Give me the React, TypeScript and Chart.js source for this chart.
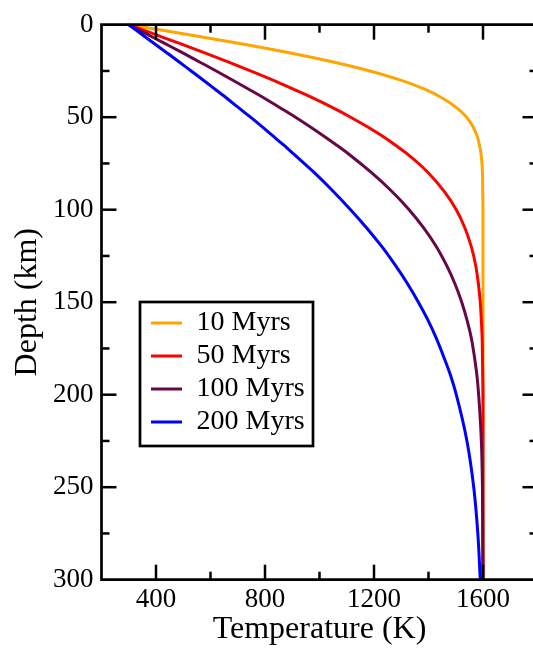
import React, { useEffect, useRef } from "react";
import { Chart, registerables } from "chart.js";

Chart.register(...registerables);

// ---- data ----
const depthKm = [0, 5, 10, 15, 20, 25, 30, 35, 40, 45, 50, 55, 60, 65, 70, 80, 90, 100, 110, 120, 130, 140, 150, 160, 170, 180, 190, 200, 225, 250, 275, 300];
const temp10Myr = [300, 505, 702, 884, 1046, 1185, 1298, 1388, 1455, 1504, 1540, 1563, 1578, 1587, 1593, 1598, 1599, 1600, 1600, 1600, 1600, 1600, 1600, 1600, 1600, 1600, 1600, 1600, 1600, 1600, 1600, 1600];
const temp50Myr = [300, 392, 484, 574, 662, 747, 829, 906, 981, 1050, 1114, 1174, 1229, 1278, 1323, 1399, 1457, 1502, 1534, 1557, 1573, 1583, 1590, 1594, 1597, 1598, 1599, 1600, 1600, 1600, 1600, 1600];
const temp100Myr = [300, 365, 430, 495, 558, 621, 682, 742, 801, 857, 912, 964, 1014, 1062, 1108, 1191, 1265, 1329, 1383, 1429, 1466, 1497, 1522, 1542, 1558, 1569, 1578, 1584, 1594, 1598, 1599, 1600];
const temp200Myr = [300, 346, 392, 438, 484, 529, 574, 618, 662, 704, 747, 788, 828, 868, 906, 981, 1050, 1114, 1174, 1229, 1278, 1323, 1363, 1399, 1430, 1457, 1482, 1502, 1541, 1566, 1581, 1590];

const seriesLabels = ["10 Myrs", "50 Myrs", "100 Myrs", "200 Myrs"];
const seriesColors = ["#FFA500", "#FF0000", "#670748", "#0000FF"];
const seriesTemps = [temp10Myr, temp50Myr, temp100Myr, temp200Myr];

const xTickValues = [400, 800, 1200, 1600];
const yTickValues = [0, 50, 100, 150, 200, 250, 300];

const xTitle = "Temperature (K)";
const yTitle = "Depth (km)";

const SERIF = '"Liberation Serif", "Times New Roman", serif';
const CANVAS_W = 560;
const CANVAS_H = 648;

const framePlugin = {
  id: "frameAndLegend",
  afterDraw(chart: any) {
    const { ctx, chartArea, scales } = chart;
    const { left, right, top, bottom } = chartArea;
    const xs = scales.x;
    const ys = scales.y;
    ctx.save();
    ctx.strokeStyle = "#000";
    ctx.lineCap = "butt";

    // frame
    ctx.lineWidth = 2.7;
    ctx.beginPath();
    ctx.moveTo(left, top);
    ctx.lineTo(right, top);
    ctx.lineTo(right, bottom);
    ctx.lineTo(left, bottom);
    ctx.closePath();
    ctx.stroke();

    const seg = (x1: number, y1: number, x2: number, y2: number) => {
      ctx.beginPath();
      ctx.moveTo(x1, y1);
      ctx.lineTo(x2, y2);
      ctx.stroke();
    };

    const major = 15;
    const minor = 8;
    ctx.lineWidth = 2.5;
    // x ticks (inward, top and bottom)
    xTickValues.forEach((v, i) => {
      const px = xs.getPixelForValue(v);
      seg(px, bottom, px, bottom - major);
      seg(px, top, px, top + major);
      if (i < xTickValues.length - 1) {
        const m = xs.getPixelForValue((v + xTickValues[i + 1]) / 2);
        seg(m, bottom, m, bottom - minor);
        seg(m, top, m, top + minor);
      }
    });
    // y ticks (inward, left and right)
    yTickValues.forEach((v, i) => {
      const py = ys.getPixelForValue(v);
      if (i > 0 && i < yTickValues.length - 1) {
        seg(left, py, left + major, py);
        seg(right, py, right - major, py);
      }
      if (i < yTickValues.length - 1) {
        const m = ys.getPixelForValue((v + yTickValues[i + 1]) / 2);
        seg(left, m, left + minor, m);
        seg(right, m, right - minor, m);
      }
    });

    // axis titles
    ctx.fillStyle = "#000";
    ctx.font = `32px ${SERIF}`;
    ctx.textAlign = "center";
    ctx.textBaseline = "alphabetic";
    ctx.fillText(xTitle, (left + right) / 2, 638);
    ctx.save();
    ctx.translate(35.5, (top + bottom) / 2);
    ctx.rotate(-Math.PI / 2);
    ctx.fillText(yTitle, 0, 0);
    ctx.restore();

    // legend
    const boxL = 140;
    const boxT = 302;
    const boxW = 173;
    const boxH = 144;
    ctx.fillStyle = "#fff";
    ctx.fillRect(boxL, boxT, boxW, boxH);
    ctx.lineWidth = 2.7;
    ctx.strokeStyle = "#000";
    ctx.strokeRect(boxL, boxT, boxW, boxH);
    ctx.font = `28px ${SERIF}`;
    ctx.textAlign = "left";
    ctx.textBaseline = "middle";
    seriesLabels.forEach((lab, i) => {
      const cy = 323 + i * 33;
      ctx.strokeStyle = seriesColors[i];
      ctx.lineWidth = 3;
      seg(151, cy, 182, cy);
      ctx.fillStyle = "#000";
      ctx.fillText(lab, 196.5, cy);
    });
    ctx.restore();
  },
};

export default function App() {
  const canvasRef = useRef<HTMLCanvasElement | null>(null);

  useEffect(() => {
    const canvas = canvasRef.current;
    if (!canvas) return;
    const datasets = seriesLabels.map((label, si) => ({
      label,
      data: depthKm.map((d, i) => ({ x: seriesTemps[si][i], y: d })),
      borderColor: seriesColors[si],
      backgroundColor: seriesColors[si],
      borderWidth: 3,
      pointRadius: 0,
      fill: false,
      cubicInterpolationMode: "monotone" as const,
      order: seriesLabels.length - si,
    }));

    const chart = new Chart(canvas, {
      type: "line",
      data: { datasets },
      options: {
        animation: false,
        responsive: false,
        devicePixelRatio: 1,
        indexAxis: "y",
        layout: { padding: { top: 24.7, right: CANVAS_W - 537.5, left: 0, bottom: 0 } },
        plugins: {
          legend: { display: false },
          tooltip: { enabled: false },
          title: { display: false },
        },
        scales: {
          x: {
            type: "linear",
            position: "bottom",
            min: 200,
            max: 1800,
            grid: { display: false, drawTicks: false },
            border: { display: false },
            ticks: {
              color: "#000",
              font: { family: SERIF, size: 27 },
              padding: 4,
              autoSkip: false,
              maxRotation: 0,
              callback: (v: any) => String(v),
            },
            afterBuildTicks: (s: any) => {
              s.ticks = xTickValues.map((v) => ({ value: v }));
            },
            afterFit: (s: any) => {
              s.height = CANVAS_H - 579.7;
            },
          },
          y: {
            type: "linear",
            position: "left",
            reverse: true,
            min: 0,
            max: 300,
            grid: { display: false, drawTicks: false },
            border: { display: false },
            ticks: {
              color: "#000",
              font: { family: SERIF, size: 27 },
              padding: 8,
              autoSkip: false,
              callback: (v: any) => String(v),
            },
            afterBuildTicks: (s: any) => {
              s.ticks = yTickValues.map((v) => ({ value: v }));
            },
            afterFit: (s: any) => {
              s.width = 101.5;
            },
          },
        },
      },
      plugins: [framePlugin],
    });
    return () => chart.destroy();
  }, []);

  return (
    <div
      style={{
        position: "fixed",
        left: 0,
        top: 0,
        width: 533,
        height: 648,
        overflow: "hidden",
        background: "#fff",
      }}
    >
      <canvas
        ref={canvasRef}
        width={CANVAS_W}
        height={CANVAS_H}
        style={{ display: "block", width: CANVAS_W, height: CANVAS_H }}
      />
    </div>
  );
}
